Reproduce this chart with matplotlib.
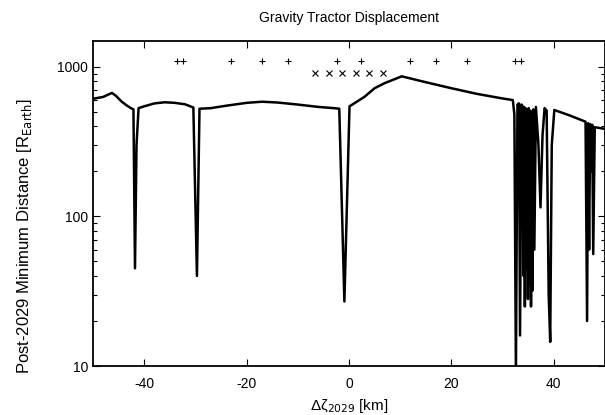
import numpy as np
import matplotlib
matplotlib.use("Agg")
import matplotlib.pyplot as plt
from matplotlib.ticker import FixedLocator, LogLocator, NullFormatter

plt.rcParams['font.family'] = ['Liberation Sans', 'DejaVu Sans']
plt.rcParams['axes.unicode_minus'] = False

# displacement (km) vs post-2029 minimum distance (Earth radii)
disp = [-50, -48, -46.3, -45.5, -44.5, -43.5, -42.6, -42.1, -41.8, -41.5, -41.1,
        -40, -38, -36, -34, -32, -31, -30.4, -29.7, -29.2,
        -27, -24, -20, -17, -14, -10, -6, -3, -1.9, -0.9, 0.1,
        1, 3, 5, 7, 9, 10.3,
        15, 20, 25, 30, 32.0, 32.3, 32.6, 32.9, 33.2, 33.4, 33.7, 33.9,
        34.1, 34.2, 34.35, 34.5, 34.65, 34.8, 34.95, 35.1, 35.25, 35.4, 35.55,
        35.7, 35.85, 36.0, 36.2, 36.5,
        37.0, 37.4, 37.8, 38.2, 38.6, 39.0, 39.3, 39.6, 40.1,
        43, 46.2, 46.5, 46.7, 46.9, 47.1, 47.3, 47.5, 47.7, 48.0, 50]
dist = [612, 630, 670, 640, 590, 555, 530, 520, 45, 300, 530,
        545, 570, 580, 575, 562, 545, 535, 40, 525,
        530, 550, 575, 585, 578, 560, 540, 530, 525, 27, 545,
        570, 630, 720, 780, 830, 865,
        790, 720, 660, 615, 600, 480, 9, 560, 570, 16, 560, 545,
        40, 540, 25, 530, 45, 520, 28, 530, 35, 510, 25,
        500, 32, 520, 60, 540,
        300, 115, 350, 530, 510, 30, 14.5, 300, 515,
        475, 430, 20, 420, 60, 415, 200, 410, 56, 395, 385]

plus_x = [-33.5, -32.5, -23, -17, -12, -2.3, 2.3, 12, 17, 23, 32.5, 33.5]
plus_y = [1100] * len(plus_x)
cross_x = [-6.7, -4.0, -1.35, 1.35, 4.0, 6.7]
cross_y = [910] * len(cross_x)

fig = plt.figure(figsize=(6.05, 4.15), dpi=100)
ax = fig.add_axes([93/605, 49/415, 512/605, 325/415])

ax.plot(disp, dist, color='black', lw=1.8)
ax.plot(plus_x, plus_y, '+', color='black', ms=5, mew=0.8)
ax.plot(cross_x, cross_y, 'x', color='black', ms=4.5, mew=0.8)

ax.set_yscale('log')
ax.set_xlim(-50, 50)
ax.set_ylim(10, 1490)
ax.xaxis.set_major_locator(FixedLocator([-40, -20, 0, 20, 40]))
ax.yaxis.set_major_locator(FixedLocator([10, 100, 1000]))
ax.set_yticklabels(['10', '100', '1000'])
ax.yaxis.set_minor_locator(LogLocator(base=10, subs=np.arange(2, 10)))
ax.yaxis.set_minor_formatter(NullFormatter())
ax.tick_params(which='both', direction='in', top=True, right=True,
               labelsize=10, width=0.8)
ax.tick_params(which='major', length=5)
ax.tick_params(which='minor', length=3)
ax.tick_params(axis='x', pad=8)
for s in ax.spines.values():
    s.set_linewidth(1.3)

ax.set_title('Gravity Tractor Displacement', fontsize=10, pad=14)
ax.set_xlabel('Δζ$_{2029}$ [km]', fontsize=11)
ax.set_ylabel(r'Post-2029 Minimum Distance [R$_{\rm Earth}$]', fontsize=12)
ax.yaxis.set_label_coords(-0.115, 0.40)

fig.savefig('out.png', dpi=100)
